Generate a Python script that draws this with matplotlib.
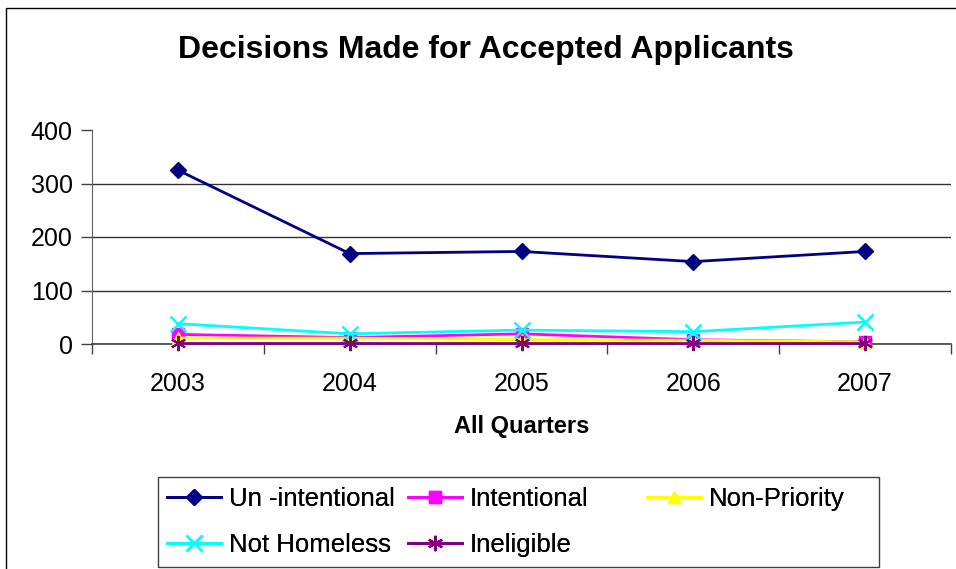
import matplotlib
matplotlib.use("Agg")
import matplotlib.pyplot as plt
from matplotlib.patches import Rectangle

plt.rcParams['font.family'] = ['Liberation Sans', 'DejaVu Sans']

years = ['2003', '2004', '2005', '2006', '2007']
unintentional = [325, 169, 173, 154, 173]
intentional = [18, 12, 19, 8, 4]
non_priority = [11, 11, 8, 7, 4]
not_homeless = [38, 19, 26, 23, 41]
ineligible = [1, 1, 1, 1, 1]

series = [
    ('Un -intentional', unintentional, '#000080', 'D', 8, 1.0),
    ('Intentional', intentional, '#FF00FF', 's', 8, 1.0),
    ('Non-Priority', non_priority, '#FFFF00', '^', 9, 1.0),
    ('Not Homeless', not_homeless, '#00FFFF', 'x', 11, 1.8),
    ('Ineligible', ineligible, '#800080', (6, 2, 0), 11, 1.5),
]

fig = plt.figure(figsize=(9.56, 5.69), dpi=100)
ax = fig.add_axes([92 / 956, 1 - 344 / 569, (951 - 92) / 956, (344 - 130) / 569])

x = list(range(len(years)))
lines = []
for name, vals, col, mk, ms, mew in series:
    ln, = ax.plot(x, vals, color=col, lw=2, marker=mk, markersize=ms,
                  markeredgewidth=mew, markerfacecolor=col, markeredgecolor=col,
                  label=name, clip_on=False, zorder=3)
    lines.append(ln)

ax.set_ylim(0, 400)
ax.set_xlim(-0.5, len(years) - 0.5)
ax.set_yticks([0, 100, 200, 300, 400])
ax.tick_params(axis='y', labelsize=18, length=8, width=1, color='#404040', pad=6)

# category labels sit between the boundary ticks
ax.set_xticks([i - 0.5 for i in range(len(years) + 1)])
ax.set_xticklabels([])
ax.set_xticks(x, minor=True)
ax.set_xticklabels(years, minor=True)
ax.tick_params(axis='x', which='major', length=7, width=1, color='#404040', direction='out')
ax.tick_params(axis='x', which='minor', length=0, labelsize=18, pad=20)

ax.yaxis.grid(True, color='#333333', lw=1)
ax.get_ygridlines()[-1].set_visible(False)
ax.set_axisbelow(True)

for s in ('top', 'right'):
    ax.spines[s].set_visible(False)
ax.spines['left'].set_color('#606060')
ax.spines['bottom'].set_color('#404040')
ax.spines['bottom'].set_linewidth(1.2)

ax.set_xlabel('All Quarters', fontsize=17, fontweight='bold')
ax.xaxis.set_label_coords(0.5, -0.33)

fig.text(0.508, 1 - 50 / 569, 'Decisions Made for Accepted Applicants',
         fontsize=23, fontweight='bold', ha='center', va='center')

# outer chart border
fig.patches.append(Rectangle((6 / 956, -0.05), 1.0, 0.986 + 0.05, fill=False,
                             edgecolor='black', lw=1, transform=fig.transFigure))

# legend box with three independently placed columns
fig.patches.append(Rectangle((158 / 956, 2 / 569), (879 - 158) / 956, (567 - 477) / 569,
                             fill=False, edgecolor='#404040', lw=1, transform=fig.transFigure))
columns = [([lines[0], lines[3]], 167), ([lines[1], lines[4]], 408), ([lines[2]], 647)]
for hs, xpos in columns:
    leg = fig.legend(hs, [h.get_label() for h in hs], loc='upper left',
                     bbox_to_anchor=(xpos / 956, 1 - 487 / 569), frameon=False,
                     fontsize=18.5, handlelength=2.1, handletextpad=0.3,
                     borderpad=0, borderaxespad=0, labelspacing=0.85)
    fig.add_artist(leg)

fig.savefig('out.png', dpi=100)
